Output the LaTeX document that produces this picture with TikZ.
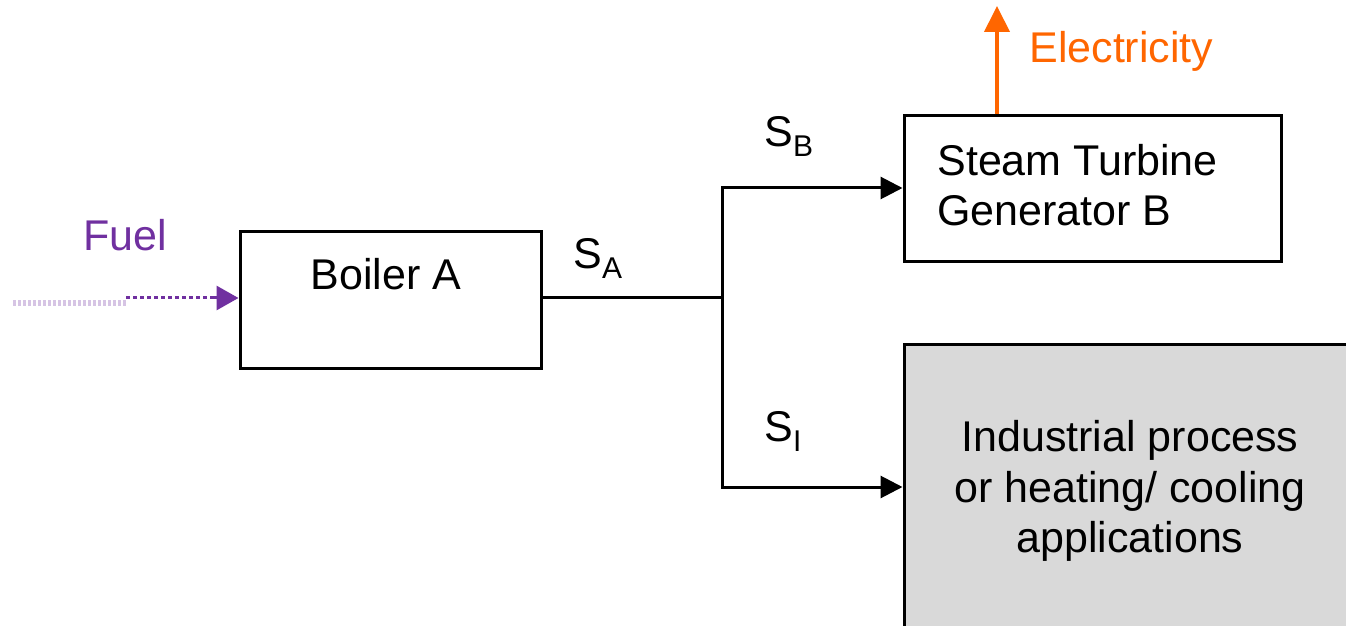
\documentclass[tikz,border=0pt]{standalone}
\usepackage{fontspec}
\setmainfont{Liberation Sans}
\usetikzlibrary{arrows.meta,calc}
\definecolor{fuelpurple}{HTML}{7030A0}
\definecolor{fuellight}{HTML}{D6C4E4}
\definecolor{elecorange}{HTML}{FF6600}
\definecolor{boxgrey}{HTML}{D9D9D9}
\newcommand{\subl}[1]{\raisebox{-5pt}{\fontsize{15}{15}\selectfont #1}}
\begin{document}
\begin{tikzpicture}[x=0.5pt,y=-0.5pt,
  font=\fontsize{21.5}{25.3}\selectfont,
  blockbox/.style={draw=black, line width=1.5pt, inner sep=0pt},
  lbl/.style={inner sep=0pt},
  flow/.style={line width=1.5pt, -{Triangle[length=11pt,width=11pt]}},
  plainline/.style={line width=1.5pt}]
\clip (0,0) rectangle (1346,626);
\fill[white] (0,0) rectangle (1346,626);
% boxes
\node[blockbox, minimum width=150.5pt, minimum height=68pt] (boiler) at (390.5,300) {};
\node[lbl, anchor=base] (boilert) at (386,290) {Boiler A};
\node[blockbox, minimum width=188.5pt, minimum height=73pt] (steam) at (1092.5,189) {};
\node[lbl, anchor=west, align=left] (steamt) at (937,185) {Steam Turbine\\Generator B};
\node[blockbox, fill=boxgrey, minimum width=230pt, minimum height=150pt] (grey) at (1134,494) {};
\node[lbl, align=center] (greyt) at (1130,491) {Industrial process\\or heating/ cooling\\applications};
% junction
\coordinate (j) at (722,298);
\coordinate (jt) at (722,188);
\coordinate (jb) at (722,487);
\draw[plainline] (j -| boiler.east) -- (j);
\draw[plainline, line cap=rect] (jt) -- (jb);
\draw[flow] (jt) -- (jt -| steam.west);
\draw[flow] (jb) -- (jb -| grey.west);
% labels
\node[lbl, anchor=base west] (sa) at (573,269) {S\subl{A}};
\node[lbl, anchor=base west] (sb) at (764,147) {S\subl{B}};
\node[lbl, anchor=base west] (si) at (764,441) {S\subl{I}};
% fuel
\coordinate (fs) at (13,303);
\coordinate (fm) at (126,303);
\coordinate (fm2) at (126,298);
\draw[fuellight, line width=3pt, dash pattern=on 1.5pt off 1pt] (fs) -- (fm);
\draw[fuelpurple, line width=1.5pt, dash pattern=on 2pt off 1.5pt] (fm2) -- ($(fm2 -| boiler.west)+(-24,0)$);
\draw[fuelpurple, line width=1.5pt, -{Triangle[length=11pt,width=12pt]}] ($(fm2 -| boiler.west)+(-25,0)$) -- (fm2 -| boiler.west);
\node[lbl, anchor=base west, text=fuelpurple] (fuel) at (83,250) {Fuel};
% electricity
\coordinate (etip) at (997,6);
\draw[elecorange, line width=2pt, -{Triangle[length=13pt,width=12.5pt]}] (etip |- steam.north) -- (etip);
\node[lbl, anchor=base west, text=elecorange] (elec) at (1029,63) {Electricity};
\end{tikzpicture}
\end{document}
